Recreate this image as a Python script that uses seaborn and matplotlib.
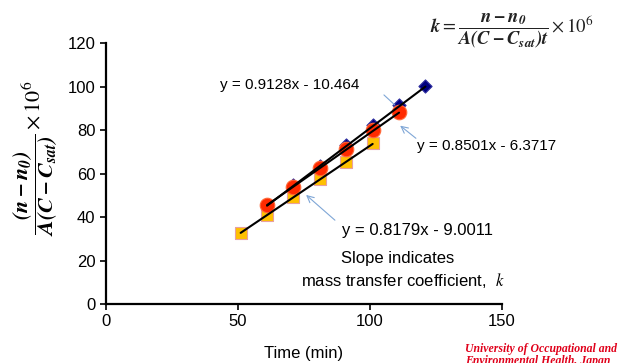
import numpy as np
import pandas as pd
import seaborn as sns
import matplotlib.pyplot as plt

plt.switch_backend('agg')

# data
time_blue = [61, 71, 81, 91, 101, 111, 121]
val_blue = [45.5, 54.5, 63.4, 73.0, 82.5, 91.5, 100.3]
time_red = [61, 71, 81, 91, 101, 111]
val_red = [45.3, 54.0, 62.6, 71.2, 80.0, 88.3]
time_orange = [51, 61, 71, 81, 91, 101]
val_orange = [32.5, 40.9, 49.0, 57.3, 65.4, 74.0]

# fitted trend lines as printed on the chart
fit_slope = {"blue": 0.9128, "red": 0.8501, "orange": 0.8179}
fit_icept = {"blue": -10.464, "red": -6.3717, "orange": -9.0011}

x_ticks = [0, 50, 100, 150]
y_ticks = [0, 20, 40, 60, 80, 100, 120]

sns.set_theme(style="ticks")
plt.rcParams['font.family'] = ['Liberation Sans', 'DejaVu Sans']
plt.rcParams['mathtext.fontset'] = 'stix'
plt.rcParams['text.color'] = 'black'
plt.rcParams['axes.labelcolor'] = 'black'
plt.rcParams['xtick.color'] = 'black'
plt.rcParams['ytick.color'] = 'black'

fig = plt.figure(figsize=(6.28, 3.63), dpi=100)
ax = fig.add_axes([0.1688, 0.1625, 0.6306, 0.719])

series = {
    "orange": (time_orange, val_orange, "s", "#ffc000", "#e8a0a0", 70),
    "blue": (time_blue, val_blue, "D", "#000080", "#3030a0", 45),
    "red": (time_red, val_red, "o", "#ff2a00", "#ff6a3a", 110),
}

for name, (t, v, mk, fc, ec, s) in series.items():
    df = pd.DataFrame({"time": t, "value": v})
    sns.scatterplot(data=df, x="time", y="value", marker=mk, color=fc,
                    edgecolor=ec, linewidth=0.8, s=s, ax=ax, zorder=2)

for name, (t, v, *_rest) in series.items():
    xs = np.array([t[0], t[-1]])
    ys = fit_slope[name] * xs + fit_icept[name]
    ax.plot(xs, ys, color="black", lw=1.5, zorder=3)

ax.set_xlim(0, 150)
ax.set_ylim(0, 120)
ax.set_xticks(x_ticks)
ax.set_yticks(y_ticks)
ax.tick_params(axis="both", labelsize=12, direction="out", length=4, width=1.2,
               color="black", labelcolor="black")
sns.despine(ax=ax)
for sp in ["left", "bottom"]:
    ax.spines[sp].set_linewidth(1.6)
    ax.spines[sp].set_color("black")

ax.set_xlabel("Time (min)", fontsize=12, labelpad=12)
ax.set_ylabel(r"$\dfrac{\mathbfit{(n-n_0)}}{\mathbfit{A(C-C_{sat})}}\times 10^6$",
              fontsize=16)
ax.yaxis.set_label_coords(-0.116, 0.56)

eq_font = 11
ax.text(43.2, 100.6, "y = 0.9128x - 10.464", fontsize=eq_font, va="center")
ax.text(117.8, 72.6, "y = 0.8501x - 6.3717", fontsize=eq_font, va="center")
ax.text(89.4, 33.6, "y = 0.8179x - 9.0011", fontsize=12, va="center")
ax.text(110.6, 21.1, "Slope indicates", fontsize=12, ha="center", va="center")
ax.text(112.5, 11, r"mass transfer coefficient,  $\it{k}$", fontsize=12, ha="center", va="center")

arrow_style = dict(arrowstyle="->", color="#7fa6d6", lw=0.8)
ax.annotate("", xy=(110.2, 90.6), xytext=(104.5, 97.0), arrowprops=dict(arrowstyle="-", color="#7fa6d6", lw=0.8))
ax.annotate("", xy=(110.6, 82.8), xytext=(118.2, 75.4), arrowprops=arrow_style)
ax.annotate("", xy=(75.0, 51.0), xytext=(87.5, 37.7), arrowprops=arrow_style)

fig.text(0.815, 0.915, r"$\mathbfit{k}=\dfrac{\mathbfit{n-n_0}}{\mathbfit{A(C-C_{sat})t}}\times 10^6$",
         fontsize=13.5, ha="center", va="center", color="#222222")

fig.text(0.74, 0.022, "University of Occupational and\nEnvironmental Health, Japan",
         fontsize=8.5, color="#e0001a", family=["Liberation Serif", "DejaVu Serif"],
         style="italic", weight="bold", ha="left", va="center", linespacing=0.95)

fig.savefig("out.png", dpi=100)
